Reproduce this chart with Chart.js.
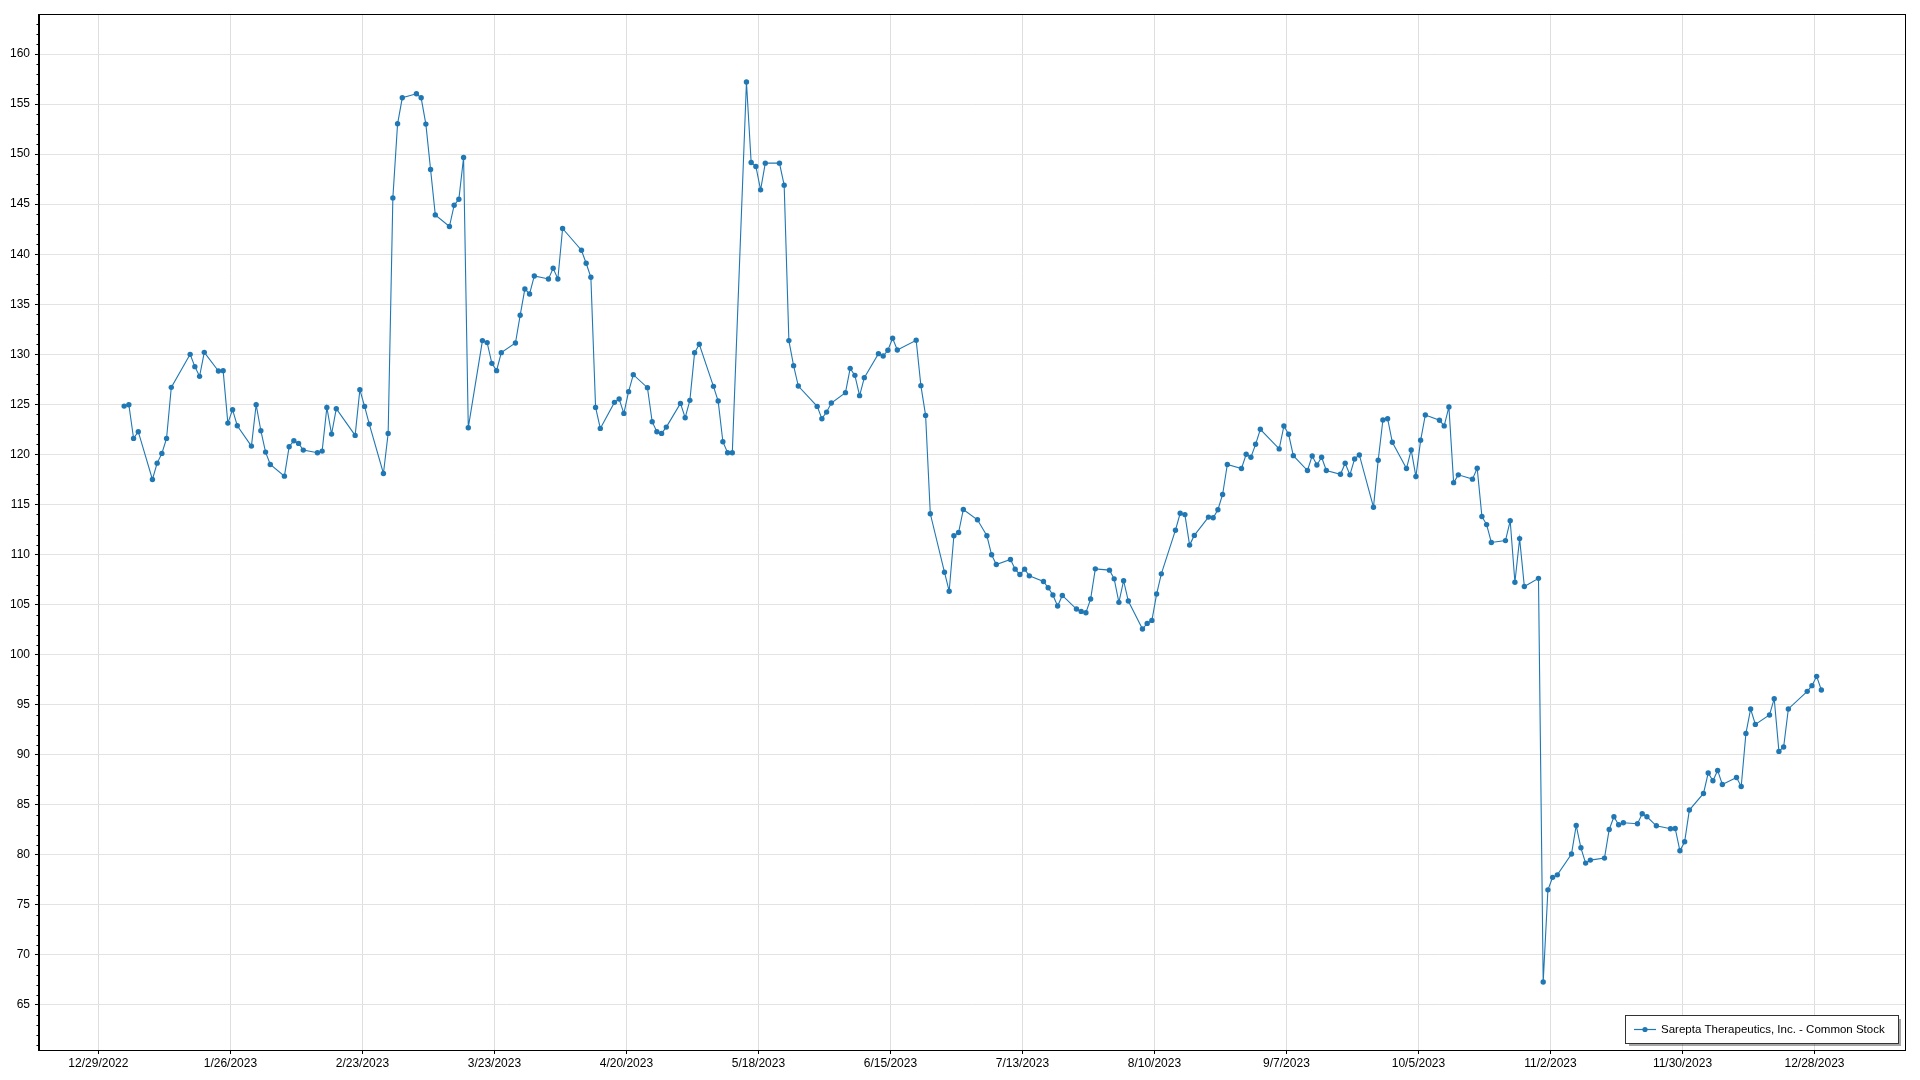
<!DOCTYPE html>
<html>
<head>
<meta charset="utf-8">
<title>Sarepta Therapeutics, Inc. - Common Stock</title>
<script src="https://cdn.jsdelivr.net/npm/chart.js@4.4.1/dist/chart.umd.min.js"></script>
<style>
  html, body { margin: 0; padding: 0; background: #fff; }
  #wrap { width: 1920px; height: 1080px; position: relative; }
</style>
</head>
<body>
<div id="wrap"><canvas id="chart"></canvas></div>
<script>
// Series label
const seriesLabel = 'Sarepta Therapeutics, Inc. - Common Stock';

// Trading dates (2023) and closing prices
const dates = [
  '1/3','1/4','1/5','1/6','1/9','1/10','1/11','1/12','1/13','1/17','1/18','1/19','1/20',
  '1/23','1/24','1/25','1/26','1/27','1/30','1/31','2/1','2/2','2/3','2/6','2/7','2/8','2/9','2/10',
  '2/13','2/14','2/15','2/16','2/17','2/21','2/22','2/23','2/24','2/27','2/28',
  '3/1','3/2','3/3','3/6','3/7','3/8','3/9','3/10','3/13','3/14','3/15','3/16','3/17',
  '3/20','3/21','3/22','3/23','3/24','3/27','3/28','3/29','3/30','3/31',
  '4/3','4/4','4/5','4/6','4/10','4/11','4/12','4/13','4/14','4/17','4/18','4/19','4/20','4/21',
  '4/24','4/25','4/26','4/27','4/28','5/1','5/2','5/3','5/4','5/5','5/8','5/9','5/10','5/11','5/12',
  '5/15','5/16','5/17','5/18','5/19','5/22','5/23','5/24','5/25','5/26','5/30','5/31',
  '6/1','6/2','6/5','6/6','6/7','6/8','6/9','6/12','6/13','6/14','6/15','6/16',
  '6/20','6/21','6/22','6/23','6/26','6/27','6/28','6/29','6/30',
  '7/3','7/5','7/6','7/7','7/10','7/11','7/12','7/13','7/14','7/17','7/18','7/19','7/20','7/21',
  '7/24','7/25','7/26','7/27','7/28','7/31','8/1','8/2','8/3','8/4','8/7','8/8','8/9','8/10','8/11',
  '8/14','8/15','8/16','8/17','8/18','8/21','8/22','8/23','8/24','8/25','8/28','8/29','8/30','8/31','9/1',
  '9/5','9/6','9/7','9/8','9/11','9/12','9/13','9/14','9/15','9/18','9/19','9/20','9/21','9/22',
  '9/25','9/26','9/27','9/28','9/29','10/2','10/3','10/4','10/5','10/6','10/9','10/10','10/11','10/12','10/13',
  '10/16','10/17','10/18','10/19','10/20','10/23','10/24','10/25','10/26','10/27','10/30','10/31',
  '11/1','11/2','11/3','11/6','11/7','11/8','11/9','11/10','11/13','11/14','11/15','11/16','11/17',
  '11/20','11/21','11/22','11/24','11/27','11/28','11/29','11/30','12/1',
  '12/4','12/5','12/6','12/7','12/8','12/11','12/12','12/13','12/14','12/15',
  '12/18','12/19','12/20','12/21','12/22','12/26','12/27','12/28','12/29'
];

const prices = [
  124.83,124.97,121.6,122.27,117.5,119.13,120.1,121.6,126.7,130.0,128.77,127.8,130.2,
  128.33,128.37,123.13,124.47,122.87,120.83,124.97,122.37,120.23,119.0,117.83,120.77,121.37,121.1,120.43,
  120.17,120.33,124.7,122.03,124.57,121.9,126.47,124.8,123.03,118.1,122.1,
  145.63,153.03,155.63,156.03,155.63,153.0,148.47,143.93,142.77,144.9,145.5,149.67,122.67,
  131.37,131.17,129.1,128.37,130.17,131.13,133.9,136.53,136.03,137.83,
  137.53,138.6,137.53,142.57,140.4,139.1,137.7,124.7,122.6,125.2,125.53,124.1,126.27,127.97,
  126.67,123.27,122.27,122.1,122.73,125.1,123.67,125.4,130.17,131.0,126.8,125.33,121.27,120.17,120.17,
  157.2,149.17,148.77,146.43,149.1,149.1,146.9,131.37,128.87,126.83,124.8,123.57,
  124.23,125.13,126.17,128.6,127.9,125.87,127.67,130.07,129.83,130.4,131.6,130.43,
  131.4,126.87,123.9,114.07,108.23,106.33,111.87,112.2,114.5,
  113.47,111.87,109.97,109.0,109.5,108.54,108.0,108.54,107.87,107.31,106.68,105.95,104.85,105.91,
  104.55,104.32,104.19,105.55,108.57,108.44,107.57,105.22,107.38,105.35,102.56,103.12,103.42,106.05,108.07,
  112.43,114.12,113.99,110.94,111.91,113.74,113.67,114.47,116.0,118.99,118.59,120.02,119.72,121.01,122.51,
  120.55,122.84,122.01,119.88,118.39,119.85,118.95,119.72,118.39,118.02,119.12,117.96,119.55,119.95,
  114.73,119.42,123.44,123.57,121.21,118.59,120.45,117.79,121.41,123.94,123.41,122.85,124.75,117.18,117.96,
  117.53,118.62,113.8,112.99,111.2,111.39,113.37,107.23,111.59,106.8,107.62,67.3,
  76.5,77.75,78.0,80.08,82.93,80.7,79.17,79.47,79.67,82.53,83.8,83.0,83.2,
  83.1,84.1,83.8,82.9,82.6,82.63,80.4,81.3,84.47,
  86.13,88.17,87.4,88.43,87.03,87.73,86.83,92.13,94.57,93.03,
  93.97,95.6,90.33,90.77,94.57,96.33,96.9,97.83,96.47
];

// Axis tick labels
const xTickLabels = ['12/29/2022','1/26/2023','2/23/2023','3/23/2023','4/20/2023','5/18/2023','6/15/2023',
  '7/13/2023','8/10/2023','9/7/2023','10/5/2023','11/2/2023','11/30/2023','12/28/2023'];
const yTickValues = [65,70,75,80,85,90,95,100,105,110,115,120,125,130,135,140,145,150,155,160];

// samples are stamped around midday, axis ticks sit at midnight
const sampleHour = 11;

const originUTC = Date.UTC(2022, 11, 29);
function dayOf(str, year, hour) {
  const p = str.split('/').map(Number);
  const y = p.length > 2 ? p[2] : year;
  return (Date.UTC(y, p[0] - 1, p[1], hour || 0) - originUTC) / 86400000;
}

const points = dates.map((d, i) => ({ x: dayOf(d, 2023, sampleHour), y: prices[i] }));
const xTickDays = xTickLabels.map(s => dayOf(s));

const blue = '#1f77b4';
const font = { family: "'Segoe UI', 'Liberation Sans', Arial, sans-serif", size: 12 };

// frame, minor ticks and legend box
const extras = {
  id: 'extras',
  afterDraw(chart) {
    const ctx = chart.ctx;
    const a = chart.chartArea;
    const y = chart.scales.y;
    ctx.save();
    ctx.strokeStyle = '#000';
    ctx.lineWidth = 1;
    ctx.strokeRect(Math.round(a.left) - 0.5, Math.round(a.top) - 0.5,
      Math.round(a.right - a.left) + 1, Math.round(a.bottom - a.top) + 1);

    // minor ticks on value axis
    ctx.beginPath();
    for (let v = Math.ceil(y.min); v <= y.max; v++) {
      if (v % 5 === 0) continue;
      const py = Math.round(y.getPixelForValue(v)) + 0.5;
      ctx.moveTo(a.left - 2.5, py);
      ctx.lineTo(a.left, py);
    }
    ctx.stroke();

    // legend
    const bx = 1626, by = 1016, bw = 272, bh = 27;
    ctx.fillStyle = 'rgba(0,0,0,0.35)';
    ctx.fillRect(bx + 3, by + 3, bw, bh);
    ctx.fillStyle = '#fff';
    ctx.fillRect(bx, by, bw, bh);
    ctx.strokeStyle = '#333';
    ctx.strokeRect(bx - 0.5, by - 0.5, bw + 1, bh + 1);
    const cy = by + bh / 2;
    ctx.strokeStyle = blue;
    ctx.lineWidth = 1.2;
    ctx.beginPath();
    ctx.moveTo(bx + 8, cy);
    ctx.lineTo(bx + 30, cy);
    ctx.stroke();
    ctx.fillStyle = blue;
    ctx.beginPath();
    ctx.arc(bx + 19, cy, 2.6, 0, Math.PI * 2);
    ctx.fill();
    let fs = 12;
    ctx.font = fs + 'px ' + font.family;
    while (ctx.measureText(seriesLabel).width > 228 && fs > 9) {
      fs -= 0.25;
      ctx.font = fs + 'px ' + font.family;
    }
    ctx.fillStyle = '#000';
    ctx.textBaseline = 'middle';
    ctx.fillText(seriesLabel, bx + 35, cy + 0.5);
    ctx.restore();
  }
};

new Chart(document.getElementById('chart'), {
  type: 'line',
  data: {
    datasets: [{
      label: seriesLabel,
      data: points,
      borderColor: blue,
      backgroundColor: blue,
      borderWidth: 1.1,
      pointRadius: 2.7,
      pointHoverRadius: 2.7,
      pointBorderWidth: 0,
      pointBackgroundColor: blue,
      tension: 0,
      fill: false
    }]
  },
  options: {
    responsive: true,
    maintainAspectRatio: false,
    animation: false,
    devicePixelRatio: 1,
    layout: { padding: { top: 15, right: 15, left: 0, bottom: 0 } },
    plugins: { legend: { display: false }, tooltip: { enabled: false } },
    scales: {
      x: {
        type: 'linear',
        min: -12.6,
        max: 383.2,
        afterBuildTicks: s => { s.ticks = xTickDays.map(v => ({ value: v })); },
        afterFit: s => { s.height = 30; },
        grid: { color: '#dedede', tickColor: '#000', tickLength: 4 },
        border: { color: '#000' },
        ticks: {
          autoSkip: false, maxRotation: 0, padding: 2, color: '#000', font: font,
          callback: v => xTickLabels[xTickDays.indexOf(v)]
        }
      },
      y: {
        min: 60.5,
        max: 163.9,
        afterBuildTicks: s => { s.ticks = yTickValues.map(v => ({ value: v })); },
        afterFit: s => { s.width = 39; },
        grid: { color: '#e3e3e3', tickColor: '#000', tickLength: 4 },
        border: { color: '#000' },
        ticks: { autoSkip: false, padding: 5, color: '#000', font: font }
      }
    }
  },
  plugins: [extras]
});
</script>
</body>
</html>
